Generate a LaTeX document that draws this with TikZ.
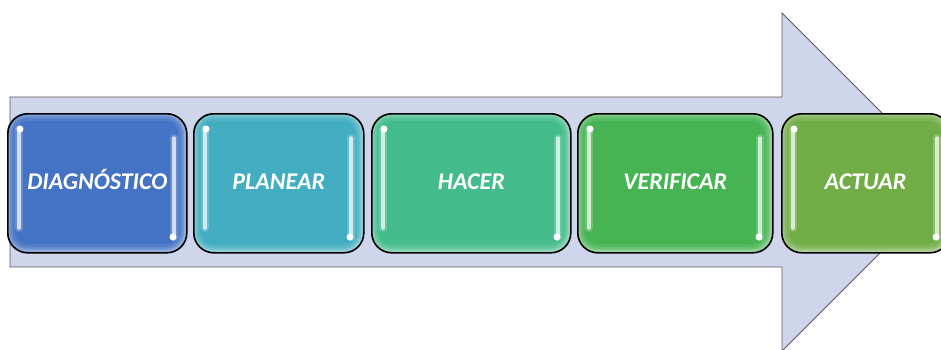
\documentclass[tikz,border=0pt]{standalone}
\usepackage{fontspec}
\setmainfont{Carlito}
\usetikzlibrary{calc}

\definecolor{arrowfill}{HTML}{CFD5EA}
\definecolor{arrowline}{HTML}{5A5A5A}
\definecolor{cdiag}{HTML}{4472C4}
\definecolor{cplan}{HTML}{42ADC0}
\definecolor{chacer}{HTML}{43BB8B}
\definecolor{cverif}{HTML}{46B453}
\definecolor{cactuar}{HTML}{70AD47}

\tikzset{
  phasebox/.style={rounded corners=20pt, draw=black, line width=1.6pt},
  phasetext/.style={text=white, font=\fontsize{24}{28}\selectfont\bfseries\itshape,
    text height=0.64em, text depth=0pt, inner sep=0pt, yshift=-3pt},
}

% glossy rounded step: #1 name, #2 left, #3 right, #4 colour
\newcommand{\phasestep}[4]{%
  \fill[#4, rounded corners=20pt] (#2,113) rectangle (#3,252);
  \begin{scope}
    \clip[rounded corners=20pt] (#2,113) rectangle (#3,252);
    \foreach \w/\o in {16/0.08, 11/0.10, 7/0.13, 4/0.18}{
      \draw[white, opacity=\o, line width=\w pt, rounded corners=20pt] (#2,113) rectangle (#3,252);
    }
    % vertical highlights
    \draw[#4!50!white, line width=8pt, opacity=0.4, line cap=round] (#2+12,129) -- (#2+12,228);
    \draw[#4!25!white, line width=3.5pt, line cap=round] (#2+12,129) -- (#2+12,228);
    \fill[white] (#2+13,129) circle (3.5pt);
    \draw[#4!50!white, line width=8pt, opacity=0.4, line cap=round] (#3-12,138) -- (#3-12,237);
    \draw[#4!25!white, line width=3.5pt, line cap=round] (#3-12,138) -- (#3-12,237);
    \fill[white] (#3-13,237) circle (3.5pt);
  \end{scope}
  \node[phasebox, minimum width=#3 pt-#2 pt, minimum height=139pt, anchor=north west, inner sep=0pt] (#1) at (#2,113) {};
}

\begin{document}
\begin{tikzpicture}[x=1pt, y=-1pt]
  \useasboundingbox (0,0) rectangle (941,349);
  \clip (0,0) rectangle (941,349);

  % big block arrow in the background
  \draw[fill=arrowfill, draw=arrowline, line width=0.9pt]
    (10,97) -- (782,97) -- (782,13) -- (951,182) -- (782,351) -- (782,267) -- (10,267) -- cycle;

  \phasestep{diag}{7}{186}{cdiag}
  \phasestep{plan}{193}{363}{cplan}
  \phasestep{hacer}{371}{570}{chacer}
  \phasestep{verif}{577}{772}{cverif}
  \phasestep{actuar}{781}{949}{cactuar}

  \node[phasetext] at (diag.center) {DIAGNÓSTICO};
  \node[phasetext] at (plan.center) {PLANEAR};
  \node[phasetext] at (hacer.center) {HACER};
  \node[phasetext] at (verif.center) {VERIFICAR};
  \node[phasetext, xshift=-0.5pt] at (actuar.center -| 866,0) {ACTUAR};
\end{tikzpicture}
\end{document}
